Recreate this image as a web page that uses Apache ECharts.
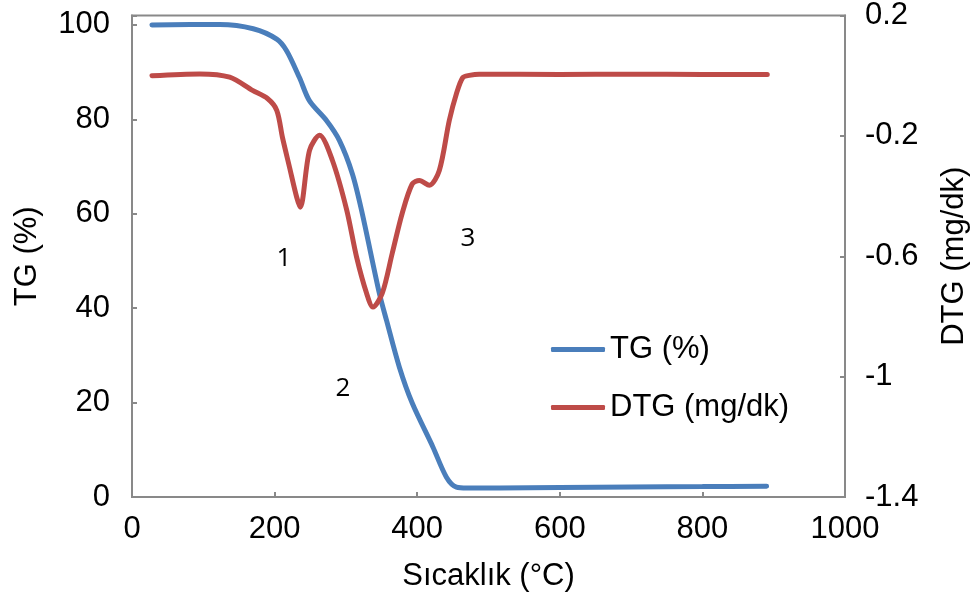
<!DOCTYPE html>
<html>
<head>
<meta charset="utf-8">
<script src="https://cdn.jsdelivr.net/npm/echarts@6/dist/echarts.min.js"></script>
<style>
  html, body { margin: 0; padding: 0; background: #fff; }
  #tga { width: 978px; height: 606px; }
</style>
</head>
<body>
<div id="tga"></div>
<script>
// TG curve
var tgTemp = [28, 123, 170, 203, 217, 235, 249, 273, 291, 309, 322, 347, 357, 375, 393, 422, 441, 455, 470, 515, 600, 700, 800, 890];
var tgVals = [100, 100.1, 99.2, 97.0, 94.5, 88.8, 83.9, 79.7, 75.5, 68.5, 60.7, 43.1, 37.4, 27.5, 19.9, 10.6, 4.2, 2.1, 1.9, 1.9, 2.0, 2.1, 2.2, 2.3];

// DTG curve
var dtgTemp = [28, 95, 137, 169, 190, 203, 211, 221, 231, 236, 249, 263, 281, 301, 315, 329, 338, 351, 365, 379, 393, 403, 417, 431, 445, 455, 464, 473, 487, 600, 700, 800, 891];
var dtgVals = [0, 0.006, -0.005, -0.049, -0.076, -0.115, -0.205, -0.305, -0.404, -0.437, -0.248, -0.198, -0.281, -0.445, -0.603, -0.723, -0.769, -0.723, -0.59, -0.457, -0.36, -0.348, -0.364, -0.315, -0.149, -0.06, -0.006, 0.001, 0.005, 0.004, 0.005, 0.004, 0.004];

// stage labels
var stageTemp = [213, 296, 471];
var stageTG = [50.5, 23, 54.8];
var stageText = ['1', '2', '3'];

var gray = '#898989';
var font = 'Liberation Sans';

function pairs(xs, ys) {
    return xs.map(function (x, i) { return [x, ys[i]]; });
}

var myChart = echarts.init(document.getElementById('tga'));

var option = {
    backgroundColor: '#fff',
    animation: false,
    textStyle: { fontFamily: font },
    grid: {
        left: 132, right: 132, top: 15, bottom: 109,
        show: true, borderColor: gray, borderWidth: 2
    },
    legend: {
        orient: 'vertical',
        left: 546,
        top: 329,
        itemWidth: 54,
        itemHeight: 5,
        itemGap: 27,
        icon: 'roundRect',
        textStyle: { fontSize: 31, color: '#000', fontFamily: font },
        data: ['TG (%)', 'DTG (mg/dk)']
    },
    xAxis: {
        type: 'value',
        min: 0, max: 1000, interval: 200,
        name: 'Sıcaklık (°C)',
        nameLocation: 'middle',
        nameGap: 64,
        nameTextStyle: { fontSize: 31, color: '#000' },
        axisLine: { lineStyle: { color: gray, width: 2 } },
        axisTick: { inside: true, length: 5, lineStyle: { color: gray, width: 2 } },
        axisLabel: {
            fontSize: 31, color: '#000', margin: 17,
            formatter: function (v) { return String(v); }
        },
        splitLine: { show: false }
    },
    yAxis: [
        {
            type: 'value',
            min: 0, max: 102, interval: 20,
            name: 'TG (%)',
            nameLocation: 'middle',
            nameRotate: 90,
            nameGap: 89,
            nameTextStyle: { fontSize: 31, color: '#000' },
            axisLine: { show: true, lineStyle: { color: gray, width: 2 } },
            axisTick: { show: true, inside: true, length: 5, lineStyle: { color: gray, width: 2 } },
            axisLabel: {
                fontSize: 31, color: '#000', margin: 22,
                formatter: function (v) { return v > 100 ? '' : String(v); }
            },
            splitLine: { show: false }
        },
        {
            type: 'value',
            position: 'right',
            min: -1.4, max: 0.2, interval: 0.4,
            name: 'DTG (mg/dk)',
            nameLocation: 'middle',
            nameRotate: 90,
            nameGap: 94,
            nameTextStyle: { fontSize: 31, color: '#000' },
            axisLine: { show: true, lineStyle: { color: gray, width: 2 } },
            axisTick: { show: true, inside: true, length: 5, lineStyle: { color: gray, width: 2 } },
            axisLabel: {
                fontSize: 31, color: '#000', margin: 20,
                formatter: function (v) { return String(+v.toFixed(1)); }
            },
            splitLine: { show: false }
        }
    ],
    series: [
        {
            name: 'TG (%)',
            type: 'line',
            yAxisIndex: 0,
            data: pairs(tgTemp, tgVals),
            smooth: 0.3,
            showSymbol: false,
            color: '#4a7ebb',
            lineStyle: { width: 5, cap: 'round' }
        },
        {
            name: 'DTG (mg/dk)',
            type: 'line',
            yAxisIndex: 1,
            data: pairs(dtgTemp, dtgVals),
            smooth: 0.3,
            showSymbol: false,
            color: '#be4b48',
            lineStyle: { width: 5, cap: 'round' }
        },
        {
            name: 'stages',
            type: 'scatter',
            yAxisIndex: 0,
            symbolSize: 1,
            silent: true,
            itemStyle: { color: 'rgba(0,0,0,0)', opacity: 1 },
            data: stageTemp.map(function (x, i) {
                return { value: [x, stageTG[i]], label: { formatter: stageText[i] } };
            }),
            label: {
                show: true,
                position: 'inside',
                fontSize: 26,
                color: '#000',
                opacity: 1,
                fontFamily: 'Open Sans'
            }
        }
    ]
};

myChart.setOption(option);
</script>
</body>
</html>
